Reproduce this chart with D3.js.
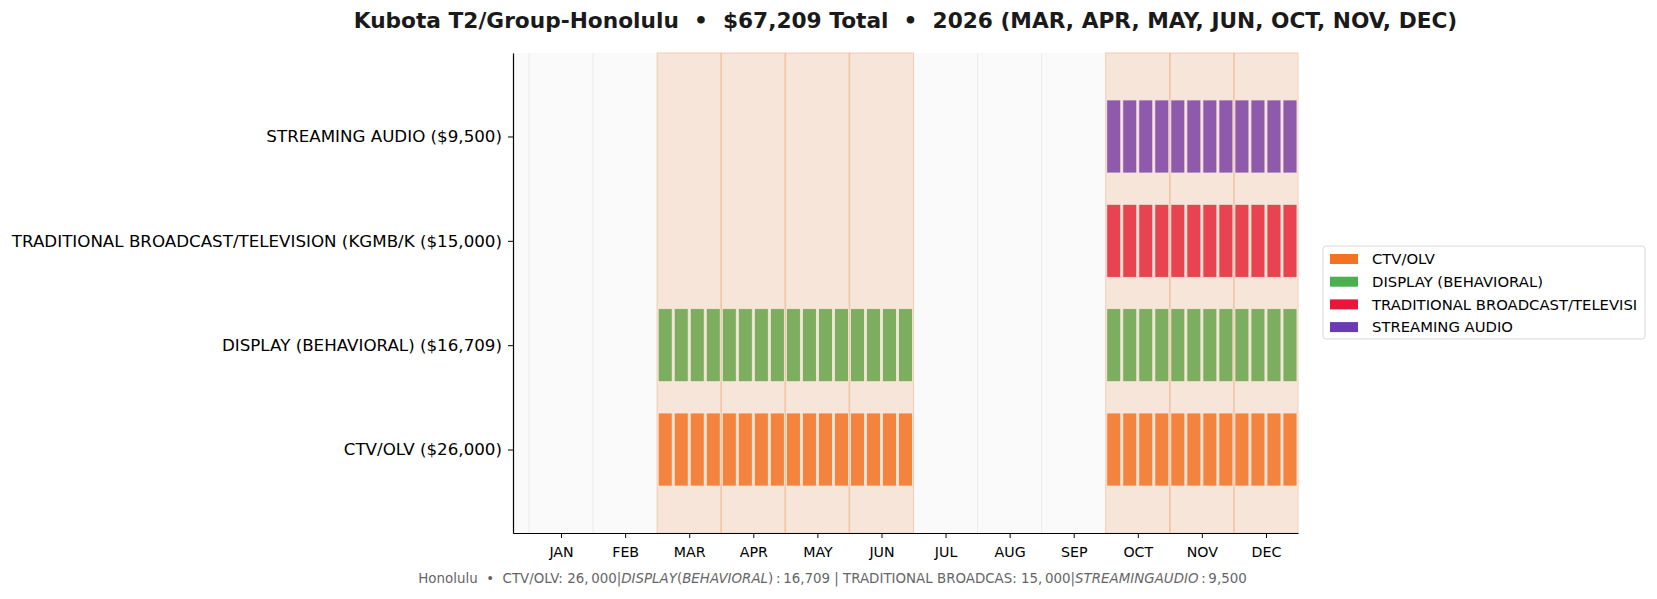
<!DOCTYPE html>
<html>
<head>
<meta charset="utf-8">
<script src="https://cdn.jsdelivr.net/npm/d3@7"></script>
<style>
  body { margin: 0; background: #fff; }
  text { font-family: "DejaVu Sans", sans-serif; white-space: pre; }
</style>
</head>
<body>
<div id="wrapper"></div>
<script>
// 1. Data

const months = ['JAN', 'FEB', 'MAR', 'APR', 'MAY', 'JUN', 'JUL', 'AUG', 'SEP', 'OCT', 'NOV', 'DEC']
const channels = [
  'CTV/OLV',
  'DISPLAY (BEHAVIORAL)',
  'TRADITIONAL BROADCAST/TELEVISION (KGMB/K',
  'STREAMING AUDIO',
]
const budgets = [26000, 16709, 15000, 9500]
const activeMonths = [
  ['MAR', 'APR', 'MAY', 'JUN', 'OCT', 'NOV', 'DEC'],
  ['MAR', 'APR', 'MAY', 'JUN', 'OCT', 'NOV', 'DEC'],
  ['OCT', 'NOV', 'DEC'],
  ['OCT', 'NOV', 'DEC'],
]
const flightMonths = ['MAR', 'APR', 'MAY', 'JUN', 'OCT', 'NOV', 'DEC']
const weeksPerMonth = 4
const market = 'Honolulu'
const client = 'Kubota T2/Group-Honolulu'
const year = 2026

const barColors = ['#f4843d', '#7dad5e', '#e8444f', '#8e5aab']
const legendColors = ['#f47322', '#4caf50', '#e6173b', '#6a3bb6']

// 2. Dimensions

const dimensions = {
  width: 1657,
  height: 599,
  margin: { top: 53, right: 359, bottom: 66, left: 513 },
}
dimensions.boundedWidth = dimensions.width - dimensions.margin.left - dimensions.margin.right
dimensions.boundedHeight = dimensions.height - dimensions.margin.top - dimensions.margin.bottom

// 3. Canvas

const wrapper = d3
  .select('#wrapper')
  .append('svg')
  .attr('width', dimensions.width)
  .attr('height', dimensions.height)

const bounds = wrapper
  .append('g')
  .attr('transform', `translate(${dimensions.margin.left},${dimensions.margin.top})`)

// 4. Scales

const xScale = d3.scaleLinear().domain([-0.25, 12]).range([0, dimensions.boundedWidth])
const yScale = d3.scaleLinear().domain([-0.8, 3.8]).range([dimensions.boundedHeight, 0])
const monthIndex = (m) => months.indexOf(m)

// 5. Background + month bands

bounds
  .append('rect')
  .attr('width', dimensions.boundedWidth)
  .attr('height', dimensions.boundedHeight)
  .attr('fill', '#fafafa')

bounds
  .selectAll('.grid')
  .data(months)
  .join('line')
  .attr('class', 'grid')
  .attr('x1', (d, i) => xScale(i))
  .attr('x2', (d, i) => xScale(i))
  .attr('y1', 0)
  .attr('y2', dimensions.boundedHeight)
  .attr('stroke', '#ebebeb')
  .attr('stroke-width', 1)

bounds
  .selectAll('.band')
  .data(flightMonths)
  .join('rect')
  .attr('class', 'band')
  .attr('x', (d) => xScale(monthIndex(d)))
  .attr('width', (d) => xScale(monthIndex(d) + 1) - xScale(monthIndex(d)))
  .attr('y', 0)
  .attr('height', dimensions.boundedHeight)
  .attr('fill', '#f7e5da')
  .attr('stroke', '#f3cdb8')
  .attr('stroke-width', 1)

// internal month dividers inside flights (darker where spans meet)
const dividers = flightMonths.filter((m) => flightMonths.includes(months[monthIndex(m) - 1]))
bounds
  .selectAll('.divider')
  .data(dividers)
  .join('line')
  .attr('class', 'divider')
  .attr('x1', (d) => xScale(monthIndex(d)))
  .attr('x2', (d) => xScale(monthIndex(d)))
  .attr('y1', 0)
  .attr('y2', dimensions.boundedHeight)
  .attr('stroke', '#f2c4a8')
  .attr('stroke-width', 1.5)

// 6. Weekly bars

const weeks = d3.range(weeksPerMonth)
const barData = channels.flatMap((c, ci) =>
  activeMonths[ci].flatMap((m) => weeks.map((w) => ({ ci, x: monthIndex(m) + w / weeksPerMonth })))
)
const slot = 1 / weeksPerMonth
const pad = 0.016

bounds
  .selectAll('.bar')
  .data(barData)
  .join('rect')
  .attr('class', 'bar')
  .attr('x', (d) => xScale(d.x + pad))
  .attr('width', (d) => xScale(d.x + slot - pad) - xScale(d.x + pad))
  .attr('y', (d) => yScale(d.ci + 0.35))
  .attr('height', (d) => yScale(d.ci - 0.35) - yScale(d.ci + 0.35))
  .attr('fill', (d) => barColors[d.ci])
  .attr('stroke', '#f8e8e0')
  .attr('stroke-width', 0.8)

// 7. Axes

const xAxis = bounds
  .append('g')
  .attr('transform', `translate(0,${dimensions.boundedHeight})`)
  .call(
    d3.axisBottom(xScale)
      .tickValues(months.map((m, i) => i + 0.5))
      .tickFormat((d) => months[Math.floor(d)])
      .tickSize(5)
      .tickSizeOuter(0)
      .tickPadding(9)
  )
xAxis.select('.domain').attr('stroke', '#000').attr('stroke-width', 1.2)
xAxis.selectAll('text').attr('font-size', 14.2).attr('fill', '#000').attr('font-family', 'DejaVu Sans')

const yAxis = bounds
  .append('g')
  .call(
    d3.axisLeft(yScale)
      .tickValues(d3.range(channels.length))
      .tickFormat((i) => `${channels[i]} ($${d3.format(',')(budgets[i])})`)
      .tickSize(5)
      .tickSizeOuter(0)
      .tickPadding(6)
  )
yAxis.select('.domain').attr('stroke', '#000').attr('stroke-width', 1.2)
yAxis.selectAll('text').attr('font-size', 16.7).attr('fill', '#000').attr('font-family', 'DejaVu Sans')

// 8. Title

wrapper
  .append('text')
  .attr('x', dimensions.margin.left + dimensions.boundedWidth / 2)
  .attr('y', 28)
  .attr('text-anchor', 'middle')
  .attr('font-size', 21.7)
  .attr('font-weight', 'bold')
  .attr('fill', '#1a1a1a')
  .text(`${client}  \u2022  $${d3.format(',')(d3.sum(budgets))} Total  \u2022  ${year} (${flightMonths.join(', ')})`)

// 9. Legend

const legend = wrapper.append('g').attr('transform', 'translate(1323,246)')
legend
  .append('rect')
  .attr('width', 322)
  .attr('height', 93)
  .attr('rx', 3)
  .attr('fill', '#fff')
  .attr('stroke', '#d9d9d9')
const legendItems = legend
  .selectAll('.item')
  .data(channels)
  .join('g')
  .attr('class', 'item')
  .attr('transform', (d, i) => `translate(7,${13 + i * 22.7})`)
legendItems
  .append('rect')
  .attr('y', -5)
  .attr('width', 28)
  .attr('height', 10)
  .attr('fill', (d, i) => legendColors[i])
legendItems
  .append('text')
  .attr('x', 42)
  .attr('dy', '0.35em')
  .attr('font-size', 14.8)
  .attr('fill', '#000')
  .text((d) => d.slice(0, 30))

// 10. Footer (dollar pairs got read as math, so those pieces look like math text)

const footerRaw =
  `${market}  \u2022  ` +
  channels.map((c, i) => `${c.slice(0, 20)}: $${d3.format(',')(budgets[i])}`).join(' | ')

const footer = wrapper
  .append('text')
  .attr('x', dimensions.width / 2 + 4)
  .attr('y', 583)
  .attr('text-anchor', 'middle')
  .attr('font-size', 13.4)
  .attr('fill', '#666')

footerRaw.split('$').forEach((part, k) => {
  if (k % 2 === 0) {
    footer.append('tspan').text(part)
    return
  }
  const chars = part.replace(/ /g, '')
  for (const ch of chars) {
    const isLetter = /[A-Za-z]/.test(ch)
    let t = ch
    if (ch === ',') t = ',\u2009'
    if (ch === ':') t = '\u2009:\u2009'
    footer
      .append('tspan')
      .attr('font-style', isLetter ? 'italic' : 'normal')
      .text(t)
  }
})
</script>
</body>
</html>
